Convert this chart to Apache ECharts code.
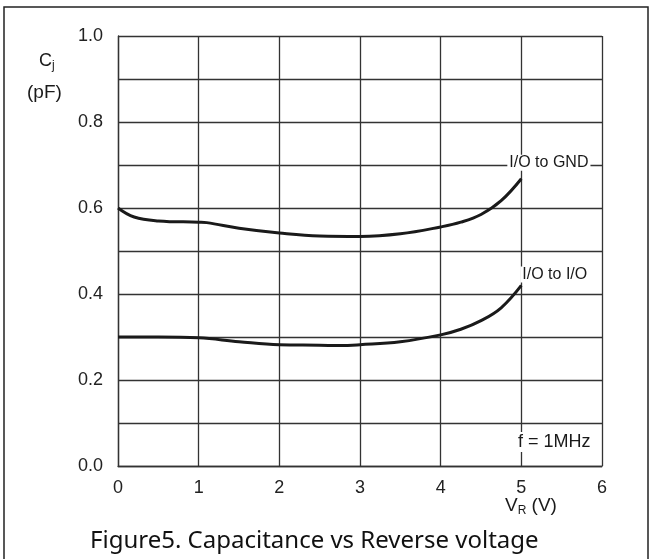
<!DOCTYPE html>
<html><head><meta charset="utf-8">
<script src="https://cdn.jsdelivr.net/npm/echarts@6/dist/echarts.min.js"></script>
<style>html,body{margin:0;padding:0;background:#fff}#c{width:653px;height:559px}</style>
</head><body><div id="c"></div>
<script>
const vr_gnd = [0, 0.2, 0.5, 1.0, 1.1, 1.5, 2.0, 2.5, 3.0, 3.5, 4.0, 4.25, 4.5, 4.75, 5.0];
const cj_gnd = [0.600, 0.579, 0.570, 0.567, 0.566, 0.553, 0.542, 0.535, 0.534, 0.540, 0.556, 0.567, 0.585, 0.617, 0.668];
const vr_io = [0, 0.5, 1.0, 1.5, 2.0, 2.5, 2.75, 3.0, 3.5, 4.0, 4.25, 4.5, 4.75, 5.0];
const cj_io = [0.300, 0.300, 0.298, 0.289, 0.282, 0.281, 0.280, 0.282, 0.289, 0.305, 0.318, 0.338, 0.368, 0.420];
const seriesNames = ['I/O to GND', 'I/O to I/O'];
const xTicks = [0, 1, 2, 3, 4, 5, 6];
const yTickLabels = ['0.0', '0.2', '0.4', '0.6', '0.8', '1.0'];

const font = 'Liberation Sans, Arial, sans-serif';
const chart = echarts.init(document.getElementById('c'), null, {renderer: 'canvas'});
function pairs(xs, ys) { return xs.map((x, i) => [x, ys[i]]); }
const lineStyle = {color: '#1a1a1a', width: 3};
chart.setOption({
  animation: false,
  grid: {left: 118, right: 51, top: 36, bottom: 93, show: false},
  xAxis: {
    type: 'value', min: xTicks[0], max: xTicks[xTicks.length - 1], interval: 1,
    axisLine: {show: true, lineStyle: {color: '#333', width: 1.3}},
    axisTick: {show: false},
    splitLine: {show: true, lineStyle: {color: '#333', width: 1.3}},
    axisLabel: {color: '#222', fontFamily: font, fontSize: 18, margin: 13}
  },
  yAxis: {
    type: 'value', min: 0, max: 1, interval: 0.1,
    axisLine: {show: true, lineStyle: {color: '#333', width: 1.3}},
    axisTick: {show: false},
    splitLine: {show: true, lineStyle: {color: '#333', width: 1.3}},
    axisLabel: {
      color: '#222', fontFamily: font, fontSize: 18, margin: 15,
      formatter: v => { const k = Math.round(v * 10); return k % 2 === 0 ? yTickLabels[k / 2] : ''; }
    }
  },
  series: [
    {
      name: seriesNames[0], type: 'line', data: pairs(vr_gnd, cj_gnd), smooth: 0.4,
      showSymbol: false, lineStyle: lineStyle, silent: true,
      endLabel: {show: true, formatter: '{a}', offset: [-22, -16], color: '#1a1a1a',
        fontFamily: font, fontSize: 16, backgroundColor: '#fff', padding: [0, 2]}
    },
    {
      name: seriesNames[1], type: 'line', data: pairs(vr_io, cj_io), smooth: 0.4,
      showSymbol: false, lineStyle: lineStyle, silent: true,
      endLabel: {show: true, formatter: '{a}', offset: [-9, -11], color: '#1a1a1a',
        fontFamily: font, fontSize: 16, backgroundColor: '#fff', padding: [0, 2]}
    }
  ],
  graphic: [
    {type: 'rect', shape: {x: 4, y: 7, width: 644, height: 560}, style: {fill: 'none', stroke: '#222', lineWidth: 1.5}, z: 0},
    {type: 'text', left: 515, top: 432, z: 100,
      style: {text: 'f = 1MHz', fill: '#1a1a1a', font: '18px ' + font, backgroundColor: '#fff', padding: [1, 3]}},
    {type: 'text', left: 39, top: 52, z: 100,
      style: {text: '{m|C}{s|j}', rich: {m: {fontFamily: font, fontSize: 18, fill: '#1a1a1a'}, s: {fontFamily: font, fontSize: 12, fill: '#1a1a1a', padding: [9, 0, 0, 0]}}}},
    {type: 'text', left: 27, top: 83, z: 100,
      style: {text: '(pF)', fill: '#1a1a1a', font: '19px ' + font}},
    {type: 'text', left: 505, top: 496, z: 100,
      style: {text: '{m|V}{s|R}{m| (V)}', rich: {m: {fontFamily: font, fontSize: 19, fill: '#1a1a1a'}, s: {fontFamily: font, fontSize: 12, fill: '#1a1a1a', padding: [10, 0, 0, 0]}}}},
    {type: 'text', left: 90, top: 529, z: 100,
      style: {text: 'Figure5. Capacitance vs Reverse voltage', fill: '#111', font: '24px "Noto Sans", "Open Sans", sans-serif'}}
  ]
});
</script></body></html>
